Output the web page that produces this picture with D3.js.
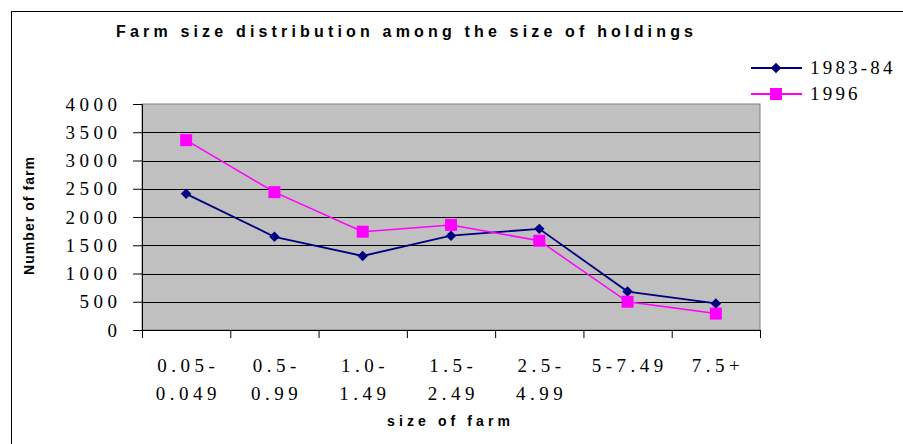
<!DOCTYPE html>
<html>
<head>
<meta charset="utf-8">
<script src="https://cdn.jsdelivr.net/npm/d3@7"></script>
<style>
  html, body { margin: 0; padding: 0; background: #fff; }
  svg { display: block; }
</style>
</head>
<body>
<div id="chart"></div>
<script>
// data
const categories = ["0.05-|0.049", "0.5-|0.99", "1.0-|1.49", "1.5-|2.49", "2.5-|4.99", "5-7.49", "7.5+"]
const series1983 = [2410, 1650, 1310, 1670, 1790, 680, 470]
const series1996 = [3360, 2440, 1740, 1860, 1580, 500, 290]
const yTicks = [0, 500, 1000, 1500, 2000, 2500, 3000, 3500, 4000]

const width = 903, height = 444
const plot = { left: 142, top: 104, right: 760, bottom: 330 }
const serif = "'Liberation Serif', 'Times New Roman', serif"
const sans = "'Liberation Sans', Arial, sans-serif"
const ls = 4.5 // letter spacing used by the serif labels
const fs = 19

const svg = d3.select("#chart").append("svg")
    .attr("width", width)
    .attr("height", height)

// outer frame (runs off the right and bottom edges)
svg.append("rect")
    .attr("x", 11.5).attr("y", 11.5)
    .attr("width", 1000).attr("height", 1000)
    .attr("fill", "none")
    .attr("stroke", "#000")

// scales
const x = d3.scaleBand()
    .domain(categories)
    .range([plot.left, plot.right])

const y = d3.scaleLinear()
    .domain([0, 4000])
    .range([plot.bottom, plot.top])

// plot background
svg.append("rect")
    .attr("x", plot.left).attr("y", plot.top)
    .attr("width", plot.right - plot.left)
    .attr("height", plot.bottom - plot.top)
    .attr("fill", "#c0c0c0")
    .attr("stroke", "#808080")

// gridlines
svg.append("g")
    .selectAll("line")
    .data(yTicks.filter(d => d > 0 && d < 4000))
    .join("line")
    .attr("x1", plot.left).attr("x2", plot.right)
    .attr("y1", d => Math.round(y(d)) + 0.5)
    .attr("y2", d => Math.round(y(d)) + 0.5)
    .attr("stroke", "#000")

// y axis
const yAxis = svg.append("g")
    .attr("transform", `translate(${plot.left},0)`)
    .call(d3.axisLeft(y).tickValues(yTicks).tickFormat(d3.format("d")).tickSize(9).tickPadding(16))
yAxis.select(".domain").attr("stroke", "#000")
yAxis.selectAll(".tick text")
    .attr("font-family", serif)
    .attr("font-size", fs)
    .attr("letter-spacing", ls)
    .attr("dx", ls)
    .attr("fill", "#000")

// x axis: ticks sit on the category boundaries
const bounds = categories.map(c => x(c)).concat([plot.right])
const xAxis = svg.append("g")
    .attr("transform", `translate(0,${plot.bottom})`)
xAxis.append("line")
    .attr("x1", plot.left - 9).attr("x2", plot.right)
    .attr("y1", 0.5).attr("y2", 0.5)
    .attr("stroke", "#000")
xAxis.selectAll(".xtick")
    .data(bounds)
    .join("line")
    .attr("class", "xtick")
    .attr("x1", d => d + 0.5).attr("x2", d => d + 0.5)
    .attr("y1", 0).attr("y2", 8)
    .attr("stroke", "#000")

const xLabels = svg.append("g")
    .selectAll("text")
    .data(categories)
    .join("text")
    .attr("y", 372)
    .attr("text-anchor", "middle")
    .attr("font-family", serif)
    .attr("font-size", fs)
    .attr("letter-spacing", ls)
xLabels.selectAll("tspan")
    .data(d => d.split("|").map(t => ({ t, c: d })))
    .join("tspan")
    .attr("x", d => x(d.c) + x.bandwidth() / 2 + ls / 2)
    .attr("dy", (d, i) => i === 0 ? 0 : 28)
    .text(d => d.t)

// lines and markers
const line = d3.line()
    .x((d, i) => x(categories[i]) + x.bandwidth() / 2)
    .y(d => y(d))

const diamond = d3.symbol().type(d3.symbolDiamond2).size(70)

svg.append("path")
    .datum(series1983)
    .attr("d", line)
    .attr("fill", "none")
    .attr("stroke", "#000080")
    .attr("stroke-width", 1.8)

svg.append("path")
    .datum(series1996)
    .attr("d", line)
    .attr("fill", "none")
    .attr("stroke", "#ff00ff")
    .attr("stroke-width", 1.5)

svg.append("g")
    .selectAll("path")
    .data(series1983)
    .join("path")
    .attr("transform", (d, i) => `translate(${x(categories[i]) + x.bandwidth() / 2},${y(d)})`)
    .attr("d", diamond)
    .attr("fill", "#000080")

svg.append("g")
    .selectAll("rect")
    .data(series1996)
    .join("rect")
    .attr("x", (d, i) => x(categories[i]) + x.bandwidth() / 2 - 6)
    .attr("y", d => y(d) - 6)
    .attr("width", 12).attr("height", 12)
    .attr("fill", "#ff00ff")

// titles
svg.append("text")
    .attr("x", 116).attr("y", 37)
    .attr("font-family", sans)
    .attr("font-weight", "bold")
    .attr("font-size", 16)
    .attr("textLength", 577)
    .attr("lengthAdjust", "spacing")
    .text("Farm  size distribution among the size of holdings")

svg.append("text")
    .attr("x", 387).attr("y", 426)
    .attr("font-family", sans)
    .attr("font-weight", "bold")
    .attr("font-size", 14)
    .attr("textLength", 123)
    .attr("lengthAdjust", "spacing")
    .text("size of farm")

svg.append("text")
    .attr("transform", "translate(34,275) rotate(-90)")
    .attr("font-family", sans)
    .attr("font-weight", "bold")
    .attr("font-size", 14)
    .attr("textLength", 118)
    .attr("lengthAdjust", "spacing")
    .text("Number of farm")

// legend
const legend = svg.append("g")
const legendItems = [
    { name: "1983-84", color: "#000080", y: 68, marker: "diamond" },
    { name: "1996", color: "#ff00ff", y: 94, marker: "square" }
]
legendItems.forEach(item => {
    legend.append("line")
        .attr("x1", 751).attr("x2", 802)
        .attr("y1", item.y).attr("y2", item.y)
        .attr("stroke", item.color)
        .attr("stroke-width", 1.8)
    if (item.marker === "diamond") {
        legend.append("path")
            .attr("transform", `translate(776,${item.y})`)
            .attr("d", diamond)
            .attr("fill", item.color)
    } else {
        legend.append("rect")
            .attr("x", 770).attr("y", item.y - 6)
            .attr("width", 12).attr("height", 12)
            .attr("fill", item.color)
    }
    legend.append("text")
        .attr("x", 810).attr("y", item.y + 6)
        .attr("font-family", serif)
        .attr("font-size", fs)
        .attr("letter-spacing", 3.2)
        .text(item.name)
})
</script>
</body>
</html>
